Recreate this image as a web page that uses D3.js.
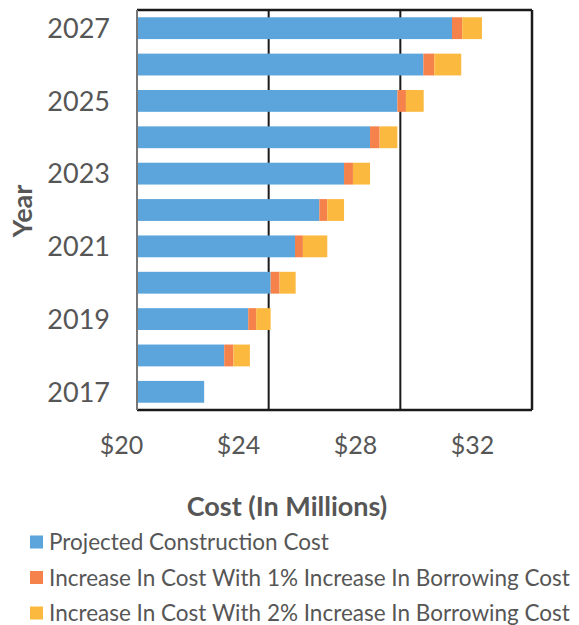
<!DOCTYPE html>
<html>
<head>
<meta charset="utf-8">
<script src="https://cdn.jsdelivr.net/npm/d3@7"></script>
<style>
  body { margin: 0; background: #fff; }
  text { font-family: Lato, "Open Sans", sans-serif; fill: #565656; }
</style>
</head>
<body>
<div id="chart"></div>
<script>
// data (millions of dollars)
var years = ["2017", "2018", "2019", "2020", "2021", "2022", "2023", "2024", "2025", "2026", "2027"];
var projectedCost = [22.04, 22.65, 23.38, 24.06, 24.80, 25.54, 26.29, 27.08, 27.91, 28.70, 29.57];
var increase1 = [0, 0.28, 0.24, 0.27, 0.24, 0.24, 0.27, 0.29, 0.26, 0.33, 0.31];
var increase2 = [0, 0.50, 0.44, 0.49, 0.74, 0.51, 0.52, 0.54, 0.54, 0.82, 0.60];
var yearTicks = ["2027", "2025", "2023", "2021", "2019", "2017"];
var costTicks = [20, 24, 28, 32];
var seriesNames = [
  "Projected Construction Cost",
  "Increase In Cost With 1% Increase In Borrowing Cost",
  "Increase In Cost With 2% Increase In Borrowing Cost"
];
var colors = ["#5ba4dc", "#f4824a", "#fbba3f"];

var svgWidth = 579;
var svgHeight = 625;
var plot = { left: 137, right: 532, top: 10, bottom: 410 };

var svg = d3.select("#chart")
  .append("svg")
  .attr("width", svgWidth)
  .attr("height", svgHeight);

var x = d3.scaleLinear()
  .domain([20, 32])
  .range([plot.left, plot.right]);

// the scanned picture puts tick labels a little left of their gridlines
var xLabel = d3.scaleLinear()
  .domain([20, 32])
  .range([121, 472]);

var y = d3.scaleBand()
  .domain(years.slice().reverse())
  .range([plot.top, plot.bottom])
  .paddingInner(0.4)
  .paddingOuter(0.2);

// build stacked rows
var rows = years.map(function(yr, i) {
  return { year: yr, s0: projectedCost[i], s1: increase1[i], s2: increase2[i] };
});
var stack = d3.stack().keys(["s0", "s1", "s2"]);
var layers = stack(rows);

// gridlines at inner ticks
svg.append("g")
  .selectAll("line")
  .data(costTicks.slice(1, -1))
  .enter()
  .append("line")
  .attr("x1", d => x(d))
  .attr("x2", d => x(d))
  .attr("y1", plot.top)
  .attr("y2", plot.bottom)
  .attr("stroke", "#1a1a1a")
  .attr("stroke-width", 2);

// bars (stack starts at 20, the axis minimum)
svg.append("g")
  .selectAll("g")
  .data(layers)
  .enter()
  .append("g")
  .attr("fill", (d, i) => colors[i])
  .selectAll("rect")
  .data(d => d)
  .enter()
  .append("rect")
  .attr("x", d => x(Math.max(d[0], 20)))
  .attr("y", d => y(d.data.year))
  .attr("width", d => x(d[1]) - x(Math.max(d[0], 20)))
  .attr("height", y.bandwidth());

// plot frame
svg.append("line")
  .attr("x1", plot.left).attr("x2", plot.right)
  .attr("y1", plot.top).attr("y2", plot.top)
  .attr("stroke", "#1a1a1a").attr("stroke-width", 2.5);
svg.append("line")
  .attr("x1", plot.right).attr("x2", plot.right)
  .attr("y1", plot.top).attr("y2", plot.bottom)
  .attr("stroke", "#1a1a1a").attr("stroke-width", 2.5);
svg.append("line")
  .attr("x1", plot.left).attr("x2", plot.right)
  .attr("y1", plot.bottom).attr("y2", plot.bottom)
  .attr("stroke", "#1a1a1a").attr("stroke-width", 2.5);
svg.append("line")
  .attr("x1", plot.left).attr("x2", plot.left)
  .attr("y1", plot.top).attr("y2", plot.bottom)
  .attr("stroke", "#777").attr("stroke-width", 2);

// y axis labels
var yAxis = d3.axisLeft(y).tickValues(yearTicks).tickSize(0).tickPadding(0);
svg.append("g")
  .attr("transform", "translate(110,0)")
  .call(yAxis)
  .call(g => g.select(".domain").remove())
  .selectAll("text")
  .style("font-size", "27px")
  .attr("dy", "0.36em");

// x axis labels
var xAxis = d3.axisBottom(xLabel)
  .tickValues(costTicks)
  .tickSize(0)
  .tickPadding(0)
  .tickFormat(d => "$" + d);
svg.append("g")
  .attr("transform", "translate(0,445)")
  .call(xAxis)
  .call(g => g.select(".domain").remove())
  .selectAll("text")
  .style("font-size", "25px")
  .attr("dy", "0.36em");

// axis titles
svg.append("text")
  .attr("transform", "translate(22,211) rotate(-90)")
  .attr("text-anchor", "middle")
  .attr("dy", "0.36em")
  .style("font-size", "27px")
  .style("font-weight", "bold")
  .text("Year");

svg.append("text")
  .attr("x", 287)
  .attr("y", 506)
  .attr("dy", "0.36em")
  .attr("text-anchor", "middle")
  .style("font-size", "27px")
  .style("font-weight", "bold")
  .text("Cost (In Millions)");

// legend
var legend = svg.append("g")
  .selectAll("g")
  .data(seriesNames)
  .enter()
  .append("g")
  .attr("transform", (d, i) => `translate(30, ${542 + i * 35.5})`);

legend.append("rect")
  .attr("x", 0)
  .attr("y", -6.5)
  .attr("width", 13)
  .attr("height", 13)
  .attr("fill", (d, i) => colors[i]);

legend.append("text")
  .attr("x", 19)
  .attr("y", 0)
  .attr("dy", "0.36em")
  .style("font-size", "22.5px")
  .text(d => d);
</script>
</body>
</html>
